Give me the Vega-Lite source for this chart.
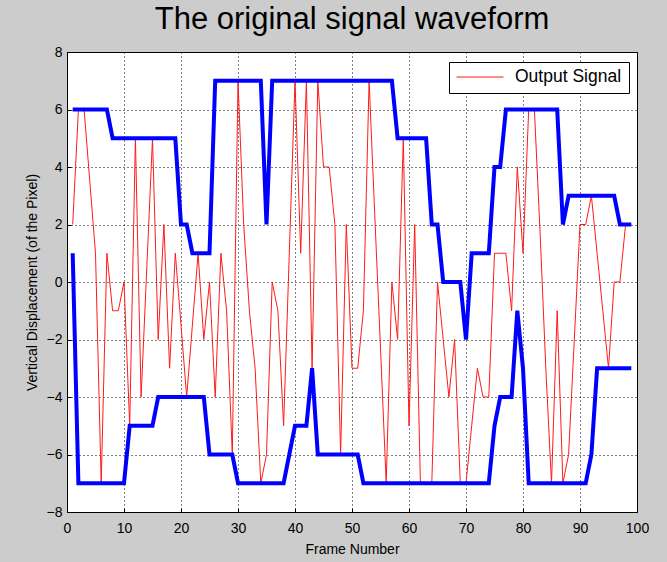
{
  "$schema": "https://vega.github.io/schema/vega-lite/v6.json",
  "autosize": {"type": "none"},
  "padding": {"left": 67, "top": 52, "right": 30, "bottom": 50},
  "width": 570,
  "height": 460,
  "background": "#cccccc",
  "title": {"text": "The original signal waveform", "anchor": "middle", "frame": "group", "offset": 9, "font": "Liberation Sans", "fontSize": 31, "fontWeight": "normal", "color": "black"},
  "datasets": {
    "sig": [
      {"frame":1,"value":2,"series":"Output Signal"},{"frame":2,"value":6,"series":"Output Signal"},{"frame":3,"value":6,"series":"Output Signal"},{"frame":4,"value":3.5,"series":"Output Signal"},{"frame":5,"value":1,"series":"Output Signal"},
      {"frame":6,"value":-7,"series":"Output Signal"},{"frame":7,"value":1,"series":"Output Signal"},{"frame":8,"value":-1,"series":"Output Signal"},{"frame":9,"value":-1,"series":"Output Signal"},{"frame":10,"value":0,"series":"Output Signal"},
      {"frame":11,"value":-5,"series":"Output Signal"},{"frame":12,"value":5,"series":"Output Signal"},{"frame":13,"value":-4,"series":"Output Signal"},{"frame":14,"value":0.5,"series":"Output Signal"},{"frame":15,"value":5,"series":"Output Signal"},
      {"frame":16,"value":-2,"series":"Output Signal"},{"frame":17,"value":2,"series":"Output Signal"},{"frame":18,"value":-3,"series":"Output Signal"},{"frame":19,"value":1,"series":"Output Signal"},{"frame":20,"value":-1.5,"series":"Output Signal"},
      {"frame":21,"value":-4,"series":"Output Signal"},{"frame":22,"value":-1.5,"series":"Output Signal"},{"frame":23,"value":1,"series":"Output Signal"},{"frame":24,"value":-2,"series":"Output Signal"},{"frame":25,"value":0,"series":"Output Signal"},
      {"frame":26,"value":-4,"series":"Output Signal"},{"frame":27,"value":1,"series":"Output Signal"},{"frame":28,"value":-1,"series":"Output Signal"},{"frame":29,"value":-6,"series":"Output Signal"},{"frame":30,"value":7,"series":"Output Signal"},
      {"frame":31,"value":2,"series":"Output Signal"},{"frame":32,"value":-1,"series":"Output Signal"},{"frame":33,"value":-3,"series":"Output Signal"},{"frame":34,"value":-7,"series":"Output Signal"},{"frame":35,"value":-6,"series":"Output Signal"},
      {"frame":36,"value":0,"series":"Output Signal"},{"frame":37,"value":-1,"series":"Output Signal"},{"frame":38,"value":-5,"series":"Output Signal"},{"frame":39,"value":1,"series":"Output Signal"},{"frame":40,"value":7,"series":"Output Signal"},
      {"frame":41,"value":1,"series":"Output Signal"},{"frame":42,"value":7,"series":"Output Signal"},{"frame":43,"value":-3,"series":"Output Signal"},{"frame":44,"value":7,"series":"Output Signal"},{"frame":45,"value":4,"series":"Output Signal"},
      {"frame":46,"value":4,"series":"Output Signal"},{"frame":47,"value":2,"series":"Output Signal"},{"frame":48,"value":-6,"series":"Output Signal"},{"frame":49,"value":2,"series":"Output Signal"},{"frame":50,"value":-3,"series":"Output Signal"},
      {"frame":51,"value":-3,"series":"Output Signal"},{"frame":52,"value":-1,"series":"Output Signal"},{"frame":53,"value":7,"series":"Output Signal"},{"frame":54,"value":2.3,"series":"Output Signal"},{"frame":55,"value":-2.3,"series":"Output Signal"},
      {"frame":56,"value":-7,"series":"Output Signal"},{"frame":57,"value":0,"series":"Output Signal"},{"frame":58,"value":-2,"series":"Output Signal"},{"frame":59,"value":5,"series":"Output Signal"},{"frame":60,"value":-5,"series":"Output Signal"},
      {"frame":61,"value":2,"series":"Output Signal"},{"frame":62,"value":-7,"series":"Output Signal"},{"frame":63,"value":-7,"series":"Output Signal"},{"frame":64,"value":-7,"series":"Output Signal"},{"frame":65,"value":0,"series":"Output Signal"},
      {"frame":66,"value":-2,"series":"Output Signal"},{"frame":67,"value":-4,"series":"Output Signal"},{"frame":68,"value":-2,"series":"Output Signal"},{"frame":69,"value":-7,"series":"Output Signal"},{"frame":70,"value":-7,"series":"Output Signal"},
      {"frame":71,"value":-5,"series":"Output Signal"},{"frame":72,"value":-3,"series":"Output Signal"},{"frame":73,"value":-4,"series":"Output Signal"},{"frame":74,"value":-4,"series":"Output Signal"},{"frame":75,"value":1,"series":"Output Signal"},
      {"frame":76,"value":1,"series":"Output Signal"},{"frame":77,"value":1,"series":"Output Signal"},{"frame":78,"value":-1,"series":"Output Signal"},{"frame":79,"value":4,"series":"Output Signal"},{"frame":80,"value":1,"series":"Output Signal"},
      {"frame":81,"value":6,"series":"Output Signal"},{"frame":82,"value":6,"series":"Output Signal"},{"frame":83,"value":1.7,"series":"Output Signal"},{"frame":84,"value":-3,"series":"Output Signal"},{"frame":85,"value":-7,"series":"Output Signal"},
      {"frame":86,"value":-1,"series":"Output Signal"},{"frame":87,"value":-7,"series":"Output Signal"},{"frame":88,"value":-6,"series":"Output Signal"},{"frame":89,"value":-2,"series":"Output Signal"},{"frame":90,"value":2,"series":"Output Signal"},
      {"frame":91,"value":2,"series":"Output Signal"},{"frame":92,"value":3,"series":"Output Signal"},{"frame":93,"value":1,"series":"Output Signal"},{"frame":94,"value":-1,"series":"Output Signal"},{"frame":95,"value":-3,"series":"Output Signal"},
      {"frame":96,"value":0,"series":"Output Signal"},{"frame":97,"value":0,"series":"Output Signal"},{"frame":98,"value":2,"series":"Output Signal"},{"frame":99,"value":2,"series":"Output Signal"}
    ],
    "env": [
      {"frame":1,"upper":6,"lower":1},{"frame":2,"upper":6,"lower":-7},{"frame":3,"upper":6,"lower":-7},{"frame":4,"upper":6,"lower":-7},{"frame":5,"upper":6,"lower":-7},
      {"frame":6,"upper":6,"lower":-7},{"frame":7,"upper":6,"lower":-7},{"frame":8,"upper":5,"lower":-7},{"frame":9,"upper":5,"lower":-7},{"frame":10,"upper":5,"lower":-7},
      {"frame":11,"upper":5,"lower":-5},{"frame":12,"upper":5,"lower":-5},{"frame":13,"upper":5,"lower":-5},{"frame":14,"upper":5,"lower":-5},{"frame":15,"upper":5,"lower":-5},
      {"frame":16,"upper":5,"lower":-4},{"frame":17,"upper":5,"lower":-4},{"frame":18,"upper":5,"lower":-4},{"frame":19,"upper":5,"lower":-4},{"frame":20,"upper":2,"lower":-4},
      {"frame":21,"upper":2,"lower":-4},{"frame":22,"upper":1,"lower":-4},{"frame":23,"upper":1,"lower":-4},{"frame":24,"upper":1,"lower":-4},{"frame":25,"upper":1,"lower":-6},
      {"frame":26,"upper":7,"lower":-6},{"frame":27,"upper":7,"lower":-6},{"frame":28,"upper":7,"lower":-6},{"frame":29,"upper":7,"lower":-6},{"frame":30,"upper":7,"lower":-7},
      {"frame":31,"upper":7,"lower":-7},{"frame":32,"upper":7,"lower":-7},{"frame":33,"upper":7,"lower":-7},{"frame":34,"upper":7,"lower":-7},{"frame":35,"upper":2,"lower":-7},
      {"frame":36,"upper":7,"lower":-7},{"frame":37,"upper":7,"lower":-7},{"frame":38,"upper":7,"lower":-7},{"frame":39,"upper":7,"lower":-6},{"frame":40,"upper":7,"lower":-5},
      {"frame":41,"upper":7,"lower":-5},{"frame":42,"upper":7,"lower":-5},{"frame":43,"upper":7,"lower":-3},{"frame":44,"upper":7,"lower":-6},{"frame":45,"upper":7,"lower":-6},
      {"frame":46,"upper":7,"lower":-6},{"frame":47,"upper":7,"lower":-6},{"frame":48,"upper":7,"lower":-6},{"frame":49,"upper":7,"lower":-6},{"frame":50,"upper":7,"lower":-6},
      {"frame":51,"upper":7,"lower":-6},{"frame":52,"upper":7,"lower":-7},{"frame":53,"upper":7,"lower":-7},{"frame":54,"upper":7,"lower":-7},{"frame":55,"upper":7,"lower":-7},
      {"frame":56,"upper":7,"lower":-7},{"frame":57,"upper":7,"lower":-7},{"frame":58,"upper":5,"lower":-7},{"frame":59,"upper":5,"lower":-7},{"frame":60,"upper":5,"lower":-7},
      {"frame":61,"upper":5,"lower":-7},{"frame":62,"upper":5,"lower":-7},{"frame":63,"upper":5,"lower":-7},{"frame":64,"upper":2,"lower":-7},{"frame":65,"upper":2,"lower":-7},
      {"frame":66,"upper":0,"lower":-7},{"frame":67,"upper":0,"lower":-7},{"frame":68,"upper":0,"lower":-7},{"frame":69,"upper":0,"lower":-7},{"frame":70,"upper":-2,"lower":-7},
      {"frame":71,"upper":1,"lower":-7},{"frame":72,"upper":1,"lower":-7},{"frame":73,"upper":1,"lower":-7},{"frame":74,"upper":1,"lower":-7},{"frame":75,"upper":4,"lower":-5},
      {"frame":76,"upper":4,"lower":-4},{"frame":77,"upper":6,"lower":-4},{"frame":78,"upper":6,"lower":-4},{"frame":79,"upper":6,"lower":-1},{"frame":80,"upper":6,"lower":-3},
      {"frame":81,"upper":6,"lower":-7},{"frame":82,"upper":6,"lower":-7},{"frame":83,"upper":6,"lower":-7},{"frame":84,"upper":6,"lower":-7},{"frame":85,"upper":6,"lower":-7},
      {"frame":86,"upper":6,"lower":-7},{"frame":87,"upper":2,"lower":-7},{"frame":88,"upper":3,"lower":-7},{"frame":89,"upper":3,"lower":-7},{"frame":90,"upper":3,"lower":-7},
      {"frame":91,"upper":3,"lower":-7},{"frame":92,"upper":3,"lower":-6},{"frame":93,"upper":3,"lower":-3},{"frame":94,"upper":3,"lower":-3},{"frame":95,"upper":3,"lower":-3},
      {"frame":96,"upper":3,"lower":-3},{"frame":97,"upper":2,"lower":-3},{"frame":98,"upper":2,"lower":-3},{"frame":99,"upper":2,"lower":-3}
    ]
  },
  "layer": [
    {
      "data": {"name": "sig"},
      "mark": {"type": "line", "strokeWidth": 1, "clip": true},
      "encoding": {
        "x": {"field": "frame", "type": "quantitative",
          "scale": {"domain": [0, 100], "nice": false, "zero": false},
          "axis": {"values": [0,10,20,30,40,50,60,70,80,90,100], "title": "Frame Number", "titleX": 285, "titleY": 37, "titleBaseline": "middle", "titleAlign": "center", "labelPadding": 13, "tickSize": -4, "labelFlush": false}},
        "y": {"field": "value", "type": "quantitative",
          "scale": {"domain": [-8, 8], "nice": false, "zero": false},
          "axis": {"values": [-8,-6,-4,-2,0,2,4,6,8], "title": "Vertical Displacement (of the Pixel)", "titleX": -35, "titleY": 230, "titleAngle": -90, "titleBaseline": "middle", "titleAlign": "center", "labelPadding": 9, "tickSize": -4, "labelFlush": false}},
        "color": {"field": "series", "type": "nominal",
          "scale": {"domain": ["Output Signal"], "range": ["#ff1a1a"]},
          "legend": {"orient": "none", "legendX": 382, "legendY": 10, "title": null, "strokeColor": "black", "fillColor": "white", "padding": 7, "clipHeight": 16, "symbolType": "M-1,0L1,0", "symbolSize": 2209, "symbolStrokeWidth": 1, "labelFont": "Liberation Sans", "labelFontSize": 17.5, "labelColor": "black", "labelLimit": 300, "labelOffset": 11}}
      }
    },
    {
      "data": {"name": "env"},
      "mark": {"type": "line", "strokeWidth": 4, "color": "#0000ff", "clip": true},
      "encoding": {
        "x": {"field": "frame", "type": "quantitative"},
        "y": {"field": "upper", "type": "quantitative"}
      }
    },
    {
      "data": {"name": "env"},
      "mark": {"type": "line", "strokeWidth": 4, "color": "#0000ff", "clip": true},
      "encoding": {
        "x": {"field": "frame", "type": "quantitative"},
        "y": {"field": "lower", "type": "quantitative"}
      }
    }
  ],
  "config": {
    "view": {"stroke": "black", "strokeWidth": 1, "fill": "white"},
    "axis": {"grid": true, "gridColor": "black", "gridDash": [1, 3], "gridOpacity": 1, "gridWidth": 1, "domainColor": "black", "tickColor": "black", "labelFont": "Liberation Sans", "labelFontSize": 14, "labelColor": "black", "titleFont": "Liberation Sans", "titleFontSize": 14, "titleFontWeight": "normal", "titleColor": "black"}
  }
}
